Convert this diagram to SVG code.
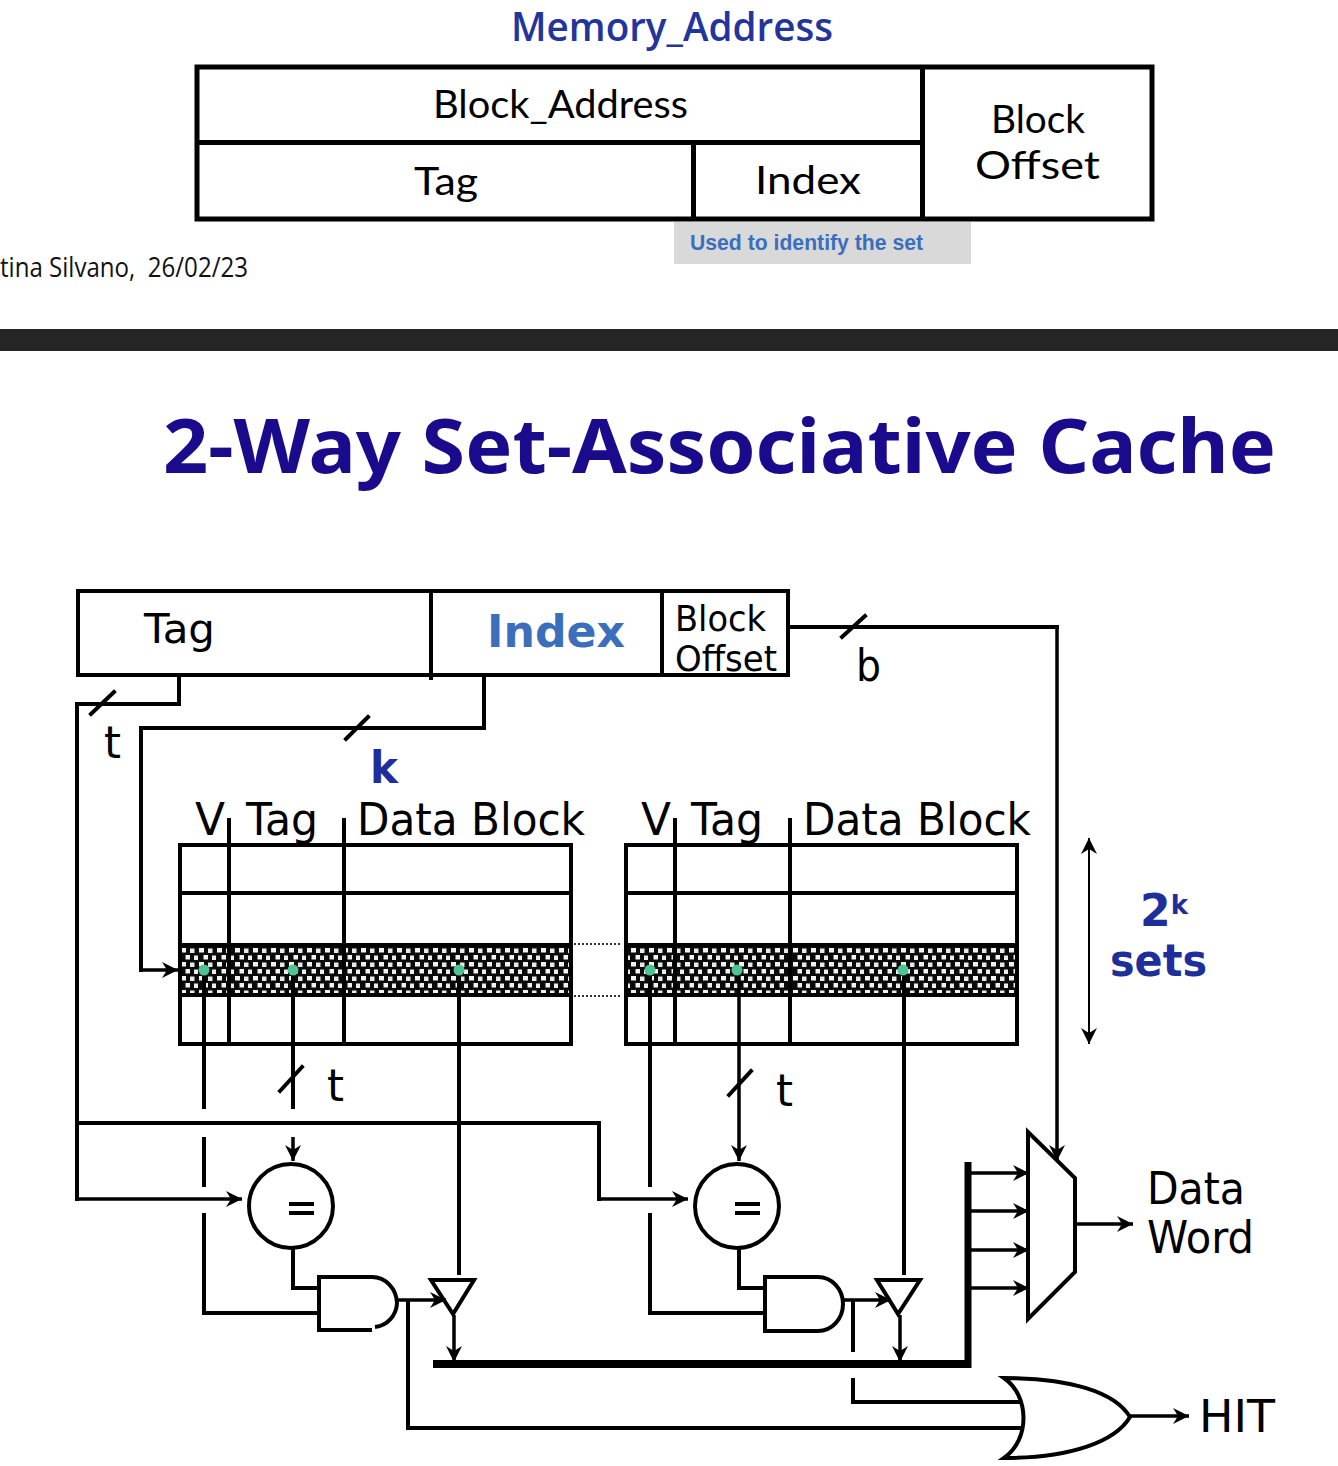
<svg xmlns="http://www.w3.org/2000/svg" width="1338" height="1466" viewBox="0 0 1338 1466">
<style>
.ln{fill:none;stroke:#000;stroke-width:4;stroke-linecap:square}
.top{fill:none;stroke:#000;stroke-width:5}
.thin{fill:none;stroke:#000;stroke-width:3.5}
.box{fill:#fff;stroke:#000;stroke-width:4}
.v{font-family:"DejaVu Sans",sans-serif;font-size:44px;fill:#000}
.vb{font-family:"DejaVu Sans",sans-serif;font-weight:bold;font-size:44px}
.c{font-family:"Lato","Open Sans",sans-serif;font-size:38px;fill:#000}
.dot{fill:#4fc493}
.arr{marker-end:url(#a)}
.dash{fill:none;stroke:#333;stroke-width:2;stroke-dasharray:2 2}
</style>
<defs>
<marker id="a" markerUnits="userSpaceOnUse" markerWidth="20" markerHeight="18" refX="16" refY="8" orient="auto"><path d="M0,0 L16,8 L0,16 L5,8 Z" fill="#000"/></marker>
<pattern id="dither" patternUnits="userSpaceOnUse" width="18" height="14" x="180" y="947">
<rect width="18" height="14" fill="#0a0a0a"/>
<rect x="1" y="1" width="5" height="4.500" fill="#f2f2f2"/><rect x="10" y="1.500" width="4.500" height="4.500" fill="#e8e8e8"/>
<rect x="5.500" y="8" width="4.500" height="4.500" fill="#f2f2f2"/><rect x="14" y="8.500" width="4" height="4.500" fill="#ececec"/>
</pattern>
</defs>
<rect width="1338" height="1466" fill="#fff"/>

<text x="511" y="41" font-family="'Open Sans',sans-serif" font-weight="600" font-size="40" fill="#23359d" textLength="322" lengthAdjust="spacingAndGlyphs">Memory_Address</text>

<g id="address-format">
<rect class="top" x="197" y="67" width="955" height="152" fill="#fff"/>
<path class="top" d="M197,142.500H922M922.500,67V219M693.500,142V219"/>
<text class="c" x="433" y="118" textLength="255" lengthAdjust="spacingAndGlyphs">Block_Address</text>
<text class="c" x="414" y="195" textLength="64" lengthAdjust="spacingAndGlyphs">Tag</text>
<text class="c" x="755" y="194" textLength="106" lengthAdjust="spacingAndGlyphs">Index</text>
<text class="c" x="991" y="133" textLength="94" lengthAdjust="spacingAndGlyphs">Block</text>
<text class="c" x="975" y="179" textLength="125" lengthAdjust="spacingAndGlyphs">Offset</text>
</g>
<g id="note">
<rect x="674" y="222" width="297" height="42" fill="#d9d9d9"/>
<text x="690" y="250" font-family="'Liberation Sans',sans-serif" font-weight="bold" font-size="22" fill="#3a6fbd" textLength="233" lengthAdjust="spacingAndGlyphs">Used to identify the set</text>
</g>
<text x="0" y="277" xml:space="preserve" font-family="'Open Sans',sans-serif" font-size="27" fill="#111" textLength="248" lengthAdjust="spacingAndGlyphs">tina Silvano,  26/02/23</text>
<rect x="0" y="329" width="1338" height="22" fill="#262626"/>
<text x="163" y="473" font-family="'Noto Sans',sans-serif" font-weight="bold" font-size="76" fill="#1a0a8c" textLength="1113" lengthAdjust="spacingAndGlyphs">2-Way Set-Associative Cache</text>

<g id="cache-address">
<rect class="box" x="78" y="591" width="710" height="84"/>
<path class="ln" d="M431,591V680M662,591V675" style="stroke-linecap:butt"/>
<text class="v" x="144" y="643" textLength="71" lengthAdjust="spacingAndGlyphs" style="font-size:41px">Tag</text>
<text class="vb" x="487" y="647" fill="#3b6fbb" textLength="138" lengthAdjust="spacingAndGlyphs">Index</text>
<text class="v" x="675" y="631" style="font-size:36px" textLength="91" lengthAdjust="spacingAndGlyphs">Block</text>
<text class="v" x="675" y="671" style="font-size:36px" textLength="102" lengthAdjust="spacingAndGlyphs">Offset</text>
</g>

<g id="way-1">
<rect x="180" y="945" width="391" height="50" fill="url(#dither)"/>
<rect class="ln" x="180" y="845" width="391" height="199"/>
<path class="ln" d="M180,893H571M180,945H571M180,995H571" style="stroke-linecap:butt"/>
<path class="ln" d="M229,818V1046M344,818V1046" style="stroke-linecap:butt"/>
<text class="v" x="195" y="835" textLength="30" lengthAdjust="spacingAndGlyphs">V</text>
<text class="v" x="246" y="835" textLength="72" lengthAdjust="spacingAndGlyphs">Tag</text>
<text class="v" x="357" y="835" textLength="228" lengthAdjust="spacingAndGlyphs">Data Block</text>
</g>
<g id="way-2">
<rect x="626" y="945" width="391" height="50" fill="url(#dither)"/>
<rect class="ln" x="626" y="845" width="391" height="199"/>
<path class="ln" d="M626,893H1017M626,945H1017M626,995H1017" style="stroke-linecap:butt"/>
<path class="ln" d="M675,818V1046M790,818V1046" style="stroke-linecap:butt"/>
<text class="v" x="641" y="835" textLength="30" lengthAdjust="spacingAndGlyphs">V</text>
<text class="v" x="691" y="835" textLength="72" lengthAdjust="spacingAndGlyphs">Tag</text>
<text class="v" x="803" y="835" textLength="228" lengthAdjust="spacingAndGlyphs">Data Block</text>
</g>

<g id="connectors">
<path class="dash" d="M574,944H622M574,996H622"/>
<path class="ln" d="M179,677V704H77V1199"/>
<path class="thin arr" d="M77,1199H242"/>
<path class="ln" d="M77,1123H599V1199"/>
<path class="thin arr" d="M599,1199H688"/>
<path class="ln" d="M91,714L114,692M346,739L368,717M842,637L865,616M280,1091L302,1067M729,1095L751,1071"/>
<path class="ln" d="M484,677V728H141V970"/>
<path class="thin arr" d="M141,970H178"/>
<path class="ln" d="M789,627H1057"/>
<path class="thin arr" d="M1057,627V1161"/>
<path class="ln" d="M204,975V1109M204,1137V1187M204,1213V1313H318M293,975V1109M459,975V1275M293,1248V1288H318" style="stroke-linecap:butt"/>
<path class="thin arr" d="M293,1137V1161"/>
<path class="ln" d="M650,975V1187M650,1213V1313H764M739,1248V1288H764M904,975V1275" style="stroke-linecap:butt"/>
<path class="thin arr" d="M739,975V1161"/>
<path class="thin arr" d="M397,1300H446"/>
<path class="thin arr" d="M843,1300H891"/>
<path class="thin arr" d="M454,1315V1362"/>
<path class="thin arr" d="M900,1315V1362"/>
<path class="ln" d="M408,1300V1428H1022" style="stroke-linecap:butt"/>
<path class="ln" d="M853,1300V1352M853,1378V1402H1022" style="stroke-linecap:butt"/>
<path fill="none" stroke="#000" stroke-width="8" d="M433,1364H968"/>
<path fill="none" stroke="#000" stroke-width="7" d="M968,1162V1368"/>
<path class="thin arr" d="M971,1173H1029"/>
<path class="thin arr" d="M971,1211H1029"/>
<path class="thin arr" d="M971,1250H1029"/>
<path class="thin arr" d="M971,1288H1029"/>
<path class="thin arr" d="M1075,1224H1133"/>
<path class="thin arr" d="M1130,1416H1189"/>
<path fill="none" stroke="#000" stroke-width="2" marker-end="url(#a)" d="M1089,900V838"/>
<path fill="none" stroke="#000" stroke-width="2" marker-end="url(#a)" d="M1089,900V1044"/>
</g>

<g id="dots">
<circle class="dot" cx="204" cy="970" r="5.500"/><circle class="dot" cx="293" cy="970" r="5.500"/><circle class="dot" cx="459" cy="970" r="5.500"/>
<circle class="dot" cx="650" cy="970" r="5.500"/><circle class="dot" cx="737" cy="970" r="5.500"/><circle class="dot" cx="903" cy="970" r="5.500"/>
</g>

<g id="comparator-1"><circle cx="291" cy="1206" r="42" fill="#fff" stroke="#000" stroke-width="4"/><path class="ln" d="M289,1204H314M289,1213H314" style="stroke-linecap:butt"/></g>
<g id="comparator-2"><circle cx="737" cy="1206" r="42" fill="#fff" stroke="#000" stroke-width="4"/><path class="ln" d="M735,1204H760M735,1213H760" style="stroke-linecap:butt"/></g>
<g id="and-1"><path class="ln" d="M372,1330H319V1277H372A25,27 0 0 1 397,1303A25,25 0 0 1 375,1327" style="stroke-linecap:butt"/></g>
<g id="and-2"><path class="ln" d="M818,1331H765V1277H818A25,27 0 0 1 818,1331" style="stroke-linecap:butt"/></g>
<g id="buffer-1"><path class="ln" d="M431,1280H474L453,1314Z"/></g>
<g id="buffer-2"><path class="ln" d="M877,1280H920L898,1314Z"/></g>
<g id="mux"><path class="ln" d="M1028,1132L1075,1178V1272L1028,1319Z"/></g>
<g id="or"><path class="ln" d="M1004,1378C1070,1378 1115,1392 1130,1417C1115,1442 1070,1458 1004,1458C1030,1440 1030,1396 1004,1378Z"/></g>

<text class="v" x="104" y="758" textLength="17" lengthAdjust="spacingAndGlyphs">t</text>
<text class="vb" x="370" y="783" fill="#1f2f99" textLength="28" lengthAdjust="spacingAndGlyphs">k</text>
<text class="v" x="856" y="681" textLength="25" lengthAdjust="spacingAndGlyphs">b</text>
<text class="v" x="327" y="1101" textLength="17" lengthAdjust="spacingAndGlyphs">t</text>
<text class="v" x="776" y="1106" textLength="17" lengthAdjust="spacingAndGlyphs">t</text>
<text class="vb" x="1140" y="926" fill="#1f2f99">2<tspan dy="-12" style="font-size:26px">k</tspan></text>
<text class="vb" x="1110" y="976" fill="#1f2f99" textLength="97" lengthAdjust="spacingAndGlyphs">sets</text>
<text class="v" x="1147" y="1204" textLength="98" lengthAdjust="spacingAndGlyphs">Data</text>
<text class="v" x="1147" y="1253" textLength="107" lengthAdjust="spacingAndGlyphs">Word</text>
<text class="v" x="1199" y="1432" textLength="76" lengthAdjust="spacingAndGlyphs">HIT</text>
</svg>
